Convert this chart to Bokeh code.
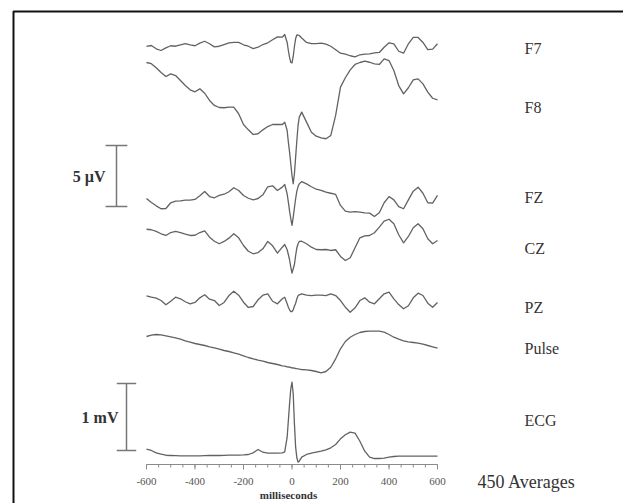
from bokeh.plotting import figure
from bokeh.models import Range1d, ColumnDataSource
from bokeh.core.properties import value
from bokeh.embed import file_html
from bokeh.resources import INLINE

# ---------------- data ----------------
time_ms = (list(range(-600, -39, 20))
           + [-30, -20, -15, -10, -5, 0, 5, 10, 15, 20, 25, 30, 40]
           + list(range(60, 601, 20)))

f7_uv = [-0.08, 0.0, -0.27, -0.41, -0.19, -0.02, -0.06, 0.06, 0.16, 0.06,
         -0.02, 0.19, 0.35, 0.14, -0.11, -0.06, 0.08, 0.22, 0.25, 0.25,
         0.06, -0.06, -0.25, -0.14, 0.08, 0.22, 0.47, 0.71, 0.68,
         0.90, 0.25, -0.41, -0.98, -1.39, -1.43, -0.90, -0.08, 0.57, 0.86, 0.86, 0.82, 0.61,
         0.25, 0.16, 0.16, 0.19, 0.11, -0.06, -0.35, -0.63, -0.71, -0.84,
         -0.93, -0.76, -0.71, -0.68, -0.60, -0.57, -0.14, 0.22, 0.14, -0.47,
         -0.63, 0.14, 0.66, 0.66, 0.25, -0.33, -0.30, 0.14]

f8_uv = [0.0, -0.10, -0.43, -0.82, -1.15, -0.93, -1.07, -1.48, -1.89, -2.24,
         -2.40, -2.16, -2.52, -3.11, -3.52, -3.69, -3.71, -3.66, -3.66, -4.20,
         -5.08, -5.52, -5.90, -5.84, -5.52, -5.25, -5.08, -5.08, -5.08,
         -4.89, -5.57, -6.53, -7.35, -8.30, -9.26, -9.94, -9.12, -7.76, -6.39, -5.16, -4.48, -4.07,
         -4.89, -5.71, -6.04, -6.17, -6.25, -5.98, -4.34, -2.02, -1.25, -0.60,
         -0.16, 0.0, 0.11, 0.02, -0.11, -0.16, 0.30, 0.16, -0.66, -1.89,
         -2.57, -2.07, -1.42, -1.34, -1.75, -2.43, -2.93, -3.06]

fz_uv = [0.0, -0.33, -0.60, -0.84, -0.82, -0.35, -0.22, -0.19, -0.14, -0.14,
         -0.08, 0.22, 0.57, 0.16, 0.06, 0.25, 0.35, 0.55, 0.88, 0.66,
         0.25, 0.02, -0.11, 0.0, 0.30, 0.96, 1.04, 0.66, 0.93,
         1.15, 0.38, -0.30, -1.04, -1.66, -2.21, -1.53, -0.76, -0.02, 0.60, 0.98, 1.20, 1.39,
         1.20, 0.96, 0.76, 0.66, 0.52, 0.43, 0.33, -0.57, -1.04, -1.12,
         -1.07, -1.12, -1.17, -1.20, -1.48, -1.17, -0.35, 0.16, -0.11, -0.66,
         -0.84, -0.11, 0.60, 0.93, 0.43, -0.35, -0.38, 0.25]

cz_uv = [0.02, -0.02, -0.16, -0.35, -0.49, -0.25, -0.16, -0.25, -0.38, -0.49,
         -0.47, -0.25, -0.11, -0.63, -0.96, -1.17, -0.98, -0.71, -0.35, -0.68,
         -1.31, -1.78, -1.99, -1.89, -1.58, -0.98, -1.34, -1.94, -1.45,
         -1.23, -1.66, -2.05, -2.48, -3.09, -3.58, -3.22, -2.87, -2.13, -1.50, -1.17, -0.98, -0.96,
         -1.17, -1.45, -1.64, -1.66, -1.64, -1.72, -1.66, -2.21, -2.54, -2.32,
         -1.50, -0.68, -0.52, -0.49, -0.27, 0.19, 0.68, 0.84, 0.47, -0.43,
         -1.09, -0.57, 0.14, 0.47, 0.06, -0.76, -1.17, -0.90]

pz_uv = [0.06, -0.06, -0.14, -0.33, -0.68, -0.39, -0.06, -0.19, -0.43, -0.60,
         -0.49, -0.11, 0.14, -0.22, -0.33, -0.74, -0.49, 0.08, 0.43, 0.11,
         -0.47, -0.90, -0.82, -0.27, 0.11, 0.22, -0.39, -0.60, -0.19,
         -0.06, -0.60, -0.88, -1.09, -1.23, -1.23, -1.09, -0.80, -0.55, -0.19, 0.06, 0.14, 0.22,
         0.11, 0.08, 0.11, 0.11, 0.08, 0.22, 0.08, -0.33, -0.88, -1.29,
         -0.93, -0.33, -0.11, -0.47, -0.60, -0.19, 0.22, 0.35, -0.19, -0.66,
         -1.01, -0.76, -0.11, 0.27, 0.08, -0.55, -0.88, -0.49]

pulse_au = [0.0, 0.13, 0.20, 0.17, 0.07, -0.03, -0.13, -0.27, -0.43, -0.57,
            -0.70, -0.80, -0.90, -1.03, -1.13, -1.27, -1.40, -1.50, -1.63, -1.77,
            -1.93, -2.10, -2.23, -2.37, -2.47, -2.60, -2.70, -2.80, -2.93,
            -2.97, -3.03, -3.05, -3.07, -3.10, -3.13, -3.15, -3.17, -3.20, -3.22, -3.23, -3.27, -3.30,
            -3.33, -3.40, -3.50, -3.63, -3.50, -3.07, -2.23, -1.23, -0.50, -0.07,
            0.20, 0.40, 0.50, 0.53, 0.53, 0.53, 0.43, 0.20, -0.07, -0.27,
            -0.43, -0.53, -0.60, -0.67, -0.77, -0.90, -1.03, -1.17]

ecg_mv = [0.094, 0.075, 0.040, 0.019, 0.004, 0.0, -0.003, -0.005, -0.005, -0.005,
          -0.005, -0.005, -0.003, 0.0, 0.0, 0.0, 0.003, 0.005, 0.007, 0.007,
          0.010, 0.015, 0.040, 0.090, 0.049, 0.034, 0.034, 0.034, 0.040,
          0.055, 0.273, 0.522, 0.772, 0.996, 1.094, 0.921, 0.473, 0.124, -0.034, -0.100, -0.085, -0.025,
          0.015, 0.034, 0.049, 0.064, 0.085, 0.115, 0.164, 0.249, 0.309, 0.348,
          0.333, 0.213, 0.064, -0.025, -0.045, -0.045, -0.040, -0.025, -0.015, -0.010,
          -0.010, -0.010, -0.010, -0.010, -0.010, -0.010, -0.010, -0.010]

channel_names = ["F7", "F8", "FZ", "CZ", "PZ", "Pulse", "ECG"]
channel_values = [f7_uv, f8_uv, fz_uv, cz_uv, pz_uv, pulse_au, ecg_mv]

tick_values = [-600, -400, -200, 0, 200, 400, 600]
tick_labels = ["-600", "-400", "-200", "0", "200", "400", "600"]
minor_ticks = list(range(-600, 601, 50))
x_axis_title = "milliseconds"
averages_text = "450 Averages"
uv_bar_label = "5 \u00b5V"
uv_bar_size = 5
mv_bar_label = "1 mV"
mv_bar_size = 1

# ---------------- layout ----------------
W, H = 623, 503
K = 291.0 / 1200.0          # px per ms
X0_PX = 146.0               # canvas px of -600 ms


def ms_at(px):
    return -600 + (px - X0_PX) / K


UV_GAIN = 12.2              # px per uV
MV_GAIN = 67.0              # px per mV
PULSE_GAIN = 10.0           # px per a.u.
baselines = [45, 62, 198, 229, 296, 336, 455]
gains = [UV_GAIN] * 5 + [PULSE_GAIN, MV_GAIN]
label_y = [48, 107, 197, 248, 307, 348, 420]

TRACE = "#626262"
TEXT = "#333333"
SERIF = value("Liberation Serif")

p = figure(width=W, height=H, output_backend="svg", toolbar_location=None,
           x_range=Range1d(ms_at(0), ms_at(W)),
           y_range=Range1d(H, 0),
           x_axis_type=None, y_axis_type=None, min_border=0)
p.outline_line_color = None
p.xgrid.visible = False
p.ygrid.visible = False
p.background_fill_color = "white"
p.border_fill_color = "white"

# frame border
p.quad(left=ms_at(13), right=ms_at(700), top=11, bottom=700,
       fill_color=None, line_color="#111111", line_width=2)

# traces
for name, vals, base, g in zip(channel_names, channel_values, baselines, gains):
    ys = [base - v * g for v in vals]
    src = ColumnDataSource(dict(x=time_ms, y=ys))
    p.line("x", "y", source=src, line_color=TRACE, line_width=1.3,
           line_join="round")

# channel labels
p.text(x=[ms_at(524)] * len(channel_names), y=label_y, text=channel_names,
       text_font=SERIF, text_font_size=value("16px"), text_color=TEXT,
       text_baseline="middle", text_align="left")

# scale bars
BAR = "#777777"
uv_x = ms_at(116)
uv_top = 145
uv_bot = uv_top + uv_bar_size * UV_GAIN
p.segment(x0=[uv_x, uv_x - 45, uv_x - 45], y0=[uv_top, uv_top, uv_bot],
          x1=[uv_x, uv_x + 45, uv_x + 45], y1=[uv_bot, uv_top, uv_bot],
          line_color=BAR, line_width=1.5)
p.text(x=[ms_at(105)], y=[(uv_top + uv_bot) / 2], text=[uv_bar_label],
       text_font=SERIF, text_font_size=value("16px"), text_font_style="bold",
       text_color=TEXT, text_baseline="middle", text_align="right")

mv_x = ms_at(126)
mv_top = 383
mv_bot = mv_top + mv_bar_size * MV_GAIN
p.segment(x0=[mv_x, mv_x - 40, mv_x - 40], y0=[mv_top, mv_top, mv_bot],
          x1=[mv_x, mv_x + 40, mv_x + 40], y1=[mv_bot, mv_top, mv_bot],
          line_color=BAR, line_width=1.5)
p.text(x=[ms_at(118)], y=[(mv_top + mv_bot) / 2], text=[mv_bar_label],
       text_font=SERIF, text_font_size=value("16px"), text_font_style="bold",
       text_color=TEXT, text_baseline="middle", text_align="right")

# time axis
AX_Y = 464
AX = "#8a8a8a"
p.segment(x0=[tick_values[0]], y0=[AX_Y], x1=[tick_values[-1]], y1=[AX_Y],
          line_color=AX, line_width=1)
p.segment(x0=minor_ticks, y0=[AX_Y] * len(minor_ticks), x1=minor_ticks,
          y1=[AX_Y + 3] * len(minor_ticks), line_color=AX, line_width=1)
p.segment(x0=tick_values, y0=[AX_Y] * len(tick_values), x1=tick_values,
          y1=[AX_Y + 5] * len(tick_values), line_color=AX, line_width=1)
p.text(x=tick_values, y=[481] * len(tick_values), text=tick_labels,
       text_font=SERIF, text_font_size=value("11px"), text_color="#555555",
       text_baseline="middle", text_align="center")
p.text(x=[ms_at(288)], y=[494.5], text=[x_axis_title], text_font=SERIF,
       text_font_size=value("11px"), text_font_style="bold", text_color=TEXT,
       text_baseline="middle", text_align="center")
p.text(x=[ms_at(477)], y=[481], text=[averages_text], text_font=SERIF,
       text_font_size=value("18px"), text_color=TEXT,
       text_baseline="middle", text_align="left")

open("out.html", "w").write(file_html(p, INLINE))
